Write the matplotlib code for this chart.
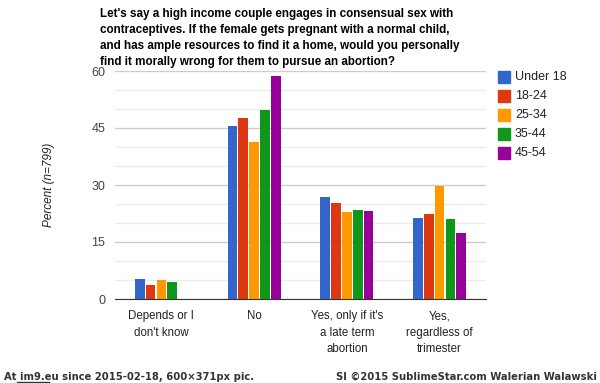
import numpy as np
import matplotlib
matplotlib.use("Agg")
import matplotlib.pyplot as plt
from matplotlib.patches import Rectangle
from matplotlib.lines import Line2D

# Data
categories = ["Depends or I\ndon't know", "No", "Yes, only if it's\na late term\nabortion",
              "Yes,\nregardless of\ntrimester"]
series_names = ["Under 18", "18-24", "25-34", "35-44", "45-54"]
under_18 = [5.3, 45.6, 26.9, 21.4]
age_18_24 = [3.8, 47.7, 25.3, 22.4]
age_25_34 = [4.9, 41.4, 23.0, 29.8]
age_35_44 = [4.5, 49.8, 23.5, 21.1]
age_45_54 = [0.0, 58.8, 23.2, 17.4]
colors = ["#3366cc", "#dc3912", "#ff9900", "#109618", "#990099"]
yticks = [0, 15, 30, 45, 60]

title = ("Let's say a high income couple engages in consensual sex with\n"
         "contraceptives. If the female gets pregnant with a normal child,\n"
         "and has ample resources to find it a home, would you personally\n"
         "find it morally wrong for them to pursue an abortion?")

plt.rcParams['font.family'] = ['Liberation Sans', 'DejaVu Sans']

fig = plt.figure(figsize=(6, 3.83), dpi=100)
ax = fig.add_axes([115 / 600, 84 / 383, 371 / 600, 228 / 383])

all_series = [under_18, age_18_24, age_25_34, age_35_44, age_45_54]
x = np.arange(len(categories)) + 0.5
slot = 0.1165
for i, (vals, c, name) in enumerate(zip(all_series, colors, series_names)):
    ax.bar(x + (i - 2) * slot, vals, width=slot * 0.9, color=c, label=name, zorder=3)

ax.set_xlim(0, len(categories))
ax.set_ylim(0, 60)
ax.set_yticks(yticks)
ax.set_yticks(np.arange(0, 61, 5), minor=True)
ax.grid(axis='y', which='major', color='#cccccc', linewidth=1, zorder=0)
ax.grid(axis='y', which='minor', color='#ebebeb', linewidth=1, zorder=0)
ax.set_xticks(x)
ax.set_xticklabels(categories, fontsize=8.3, color='#222222', linespacing=1.5)
ax.tick_params(axis='both', which='both', length=0)
ax.tick_params(axis='x', pad=8)
ax.tick_params(axis='y', labelsize=9, labelcolor='#444444', pad=7)
for s in ['top', 'right', 'left']:
    ax.spines[s].set_visible(False)
ax.spines['bottom'].set_color('#333333')
ax.spines['bottom'].set_zorder(4)

ax.set_ylabel("Percent (n=799)", fontsize=8.5, style='italic', color='#222222', labelpad=26)

fig.text(100 / 600, 1 - 8 / 383, title, fontsize=8.4, fontweight='bold', va='top', ha='left',
         linespacing=1.45, color='#000000')

# legend drawn as squares + text in figure coords
for i, (c, name) in enumerate(zip(colors, series_names)):
    yc = 77 + i * 19
    fig.patches.append(Rectangle((498 / 600, 1 - (yc + 6) / 383), 12 / 600, 12 / 383,
                                 transform=fig.transFigure, color=c))
    fig.text(515 / 600, 1 - yc / 383, name, fontsize=9, va='center', ha='left', color='#222222')

# watermark strip
fig.text(4 / 600, 1 - 377 / 383, "At im9.eu since 2015-02-18, 600\u00d7371px pic.", fontsize=8,
         fontweight='bold', family='DejaVu Sans', stretch='condensed', color='#333333', va='center')
fig.lines.append(Line2D([17 / 600, 49 / 600], [1 - 382 / 383, 1 - 382 / 383],
                        transform=fig.transFigure, color='#333333', linewidth=1))
fig.text(597 / 600, 1 - 377 / 383, "SI \u00a92015 SublimeStar.com Walerian Walawski", fontsize=8,
         fontweight='bold', family='DejaVu Sans', stretch='condensed', color='#333333',
         va='center', ha='right')

fig.savefig("out.png", dpi=100)
